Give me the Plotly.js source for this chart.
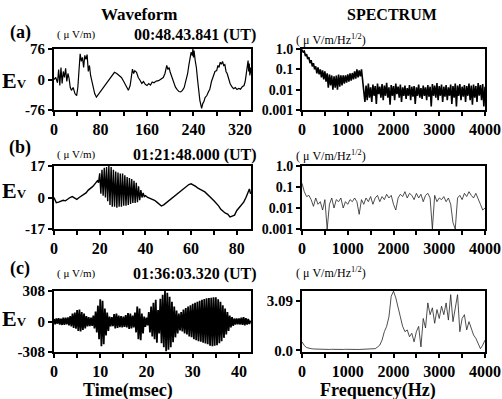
<!DOCTYPE html>
<html><head><meta charset="utf-8">
<script src="https://cdn.plot.ly/plotly-3.0.1.min.js"></script>
<style>html,body{margin:0;padding:0;background:#fff}#plot{width:502px;height:399px}</style>
</head><body><div id="plot"></div>
<script>
// ---------- DATA ----------
// (a) waveform, time in msec, Ev in uV/m
const aT = [0,3,6,8,10,12,14,16,18,20, 22,24,26,28,30,33,36,39,41,43, 45,47,49,51,53,55,57,59,61,63,
  65,67,70,73,76,80,84,88,92,96, 100,104,108,112,116,120,124,128,131,133, 135,137,139,142,145,148,151,154,157,160,
  163,166,169,172,176,180,184,188,191,194, 196,198,200,203,206,209,212,215,218,221, 224,227,230,232,234,236,238,239,240,241,
  243,245,247,249,251,253,254,256,258,260, 263,266,268,271,274,277,280,282,284,286, 288,290,292,294,296,298,300,303,306,309,
  312,315,318,321,324,327,329,331,333,334, 335,336,337,338,339];
const aV = [0,5,-8,25,-15,30,-10,20,5,28, -5,15,2,-20,-27,-20,-35,-40,-20,30, 64,45,55,30,60,50,62,20,35,10,
  -5,-20,-35,-44,-38,-28,-20,-12,-5,5, 12,18,15,10,5,-5,-18,-27,-15,10, 26,15,22,18,5,-2,-10,-5,-12,-15,
  -10,-14,-6,-8,-4,-3,2,5,15,35, 25,30,18,5,-10,-19,-25,-30,-31,-27, -20,-5,15,35,55,68,60,76,55,72,
  47,30,0,-30,-52,-65,-72,-60,-55,-45, -40,-30,-25,-5,10,20,22,35,30,43, 38,45,35,37,20,15,5,-10,-18,-23,
  -20,-25,-22,-24,-18,-15,-5,15,30,47, 20,40,10,30,15];

// (b) waveform
const bT = [0,0.5,1,2,3,4,5,6,7,8,9,10,11,12,13,14,15,16,17,18,19,19.5,
  20,20.5,21,21.5,22,22.5,23,23.5,24,24.5,25,25.5,26,26.5,27,27.5,28,28.5,29,29.5,
  30,30.5,31,31.5,32,32.5,33,33.5,34,34.5,35,35.5,36,36.5,37,37.5,38,38.5,39,39.5,
  40,41,42,43,44,45,46,47,48,49,50,51,52,53,54,55,56,57,58,59,60,61,62,63,64,65,66,67,68,69,
  70,71,72,73,74,75,76,77,78,79,80,81,82,83,84,85,85.5,86];
const bV = [0,-2,-2.8,-2.5,-2,-1.5,-1.8,-0.8,0,0.5,-0.5,-1,0,0.8,1.5,2.5,4,4.8,6,7.5,9,8,
  13,2,15,1,16,0,16.5,-2,17,-4,16.5,-5,15,-5,14,-5.5,13.5,-5,13,-5,
  13,-4.5,12,-4.5,11,-4,10.5,-3.5,10,-3,9,-3,8,-2.5,6,-1.5,4,0,2.5,0.5,
  1,0,-0.5,-1,-1.5,-2.5,-3.7,-4.6,-4,-3,-2,-1,0.5,1.5,2.5,3.5,4.2,5,6,7,7.4,6.8,6,5,4.5,3.7,3,2,1,-0.5,
  -1.8,-3,-4.5,-6.4,-7.5,-8.5,-9,-10.5,-10,-9.5,-7,-5.5,-4,-2.5,0,3,4.6,2];

// (c) waveform, sampled every 0.25 msec from 0
const cV = [25,-28,30,-22, 33,-30,28,-35, 38,-33,40,-30, 42,-40,55,-50, 80,-65,90,-72,
  115,-95,120,-100, 95,-85,80,-70, 55,-50,45,-48, 40,-45,60,-70, 100,-110,160,-180,
  225,-250,210,-230, 130,-140,90,-95, 50,-50,45,-48, 75,-70,80,-65, 60,-58,55,-60,
  50,-55,65,-60, 85,-75,80,-70, 60,-60,90,-110, 150,-180,130,-190, 80,-120,50,-55,
  40,-40,95,-110, 150,-150,190,-180, 220,-215,115,-120, 230,-220,270,-260, 308,-300,290,-285,
  250,-260,200,-210, 150,-160,110,-120, 80,-90,95,-100, 120,-120,135,-130, 150,-150,165,-160,
  180,-180,190,-190, 200,-200,210,-205, 220,-215,228,-222, 235,-230,238,-245, 240,-250,245,-245,
  245,-240,225,-220, 200,-200,165,-165, 130,-130,95,-95, 60,-60,45,-45, 30,-30,30,-28,
  30,-30,38,-35, 45,-40,35,-32, 25,-25,10];

// (a) spectrum, every 25 Hz from 0
const sA = [0.95,0.71,0.79,0.45,0.56,0.32,0.4,0.2,0.28,0.14,
  0.2,0.1,0.14,0.063,0.126,0.056,0.1,0.04,0.089,0.032,
  0.079,0.025,0.063,0.0126,0.056,0.016,0.05,0.01,0.045,0.0126,
  0.05,0.01,0.056,0.014,0.05,0.016,0.05,0.02,0.05,0.022,
  0.056,0.025,0.063,0.028,0.066,0.032,0.079,0.035,0.1,0.04,
  0.089,0.045,0.1,0.032,0.01,0.0025,
  0.016,0.003,0.02,0.004,0.013,0.0025,0.018,0.005,0.015,0.002,
  0.02,0.006,0.014,0.004,0.019,0.003,0.016,0.005,0.022,0.004,
  0.013,0.0018,0.017,0.005,0.015,0.003,0.02,0.006,0.014,0.004,
  0.018,0.0025,0.013,0.005,0.016,0.0035,0.012,0.005,0.017,0.003,
  0.014,0.0045,0.015,0.002,0.013,0.005,0.018,0.004,0.012,0.0035,
  0.016,0.005,0.013,0.003,0.017,0.0045,0.014,0.0015,0.019,0.005,
  0.016,0.004,0.021,0.003,0.015,0.005,0.018,0.0025,0.014,0.0045,
  0.017,0.003,0.013,0.005,0.018,0.002,0.015,0.004,0.02,0.0015,
  0.016,0.005,0.019,0.003,0.014,0.0045,0.017,0.0025,0.015,0.005,
  0.02,0.003,0.016,0.0018,0.018,0.004,0.015,0.0025,0.021,0.005,
  0.017,0.003,0.019,0.0015,0.014];

// (b) spectrum, every 50 Hz from 0
const sB = [0.15,0.06,0.035,0.04,0.025,0.012,0.03,0.015,0.02,0.008,
  0.025,0.001,0.015,0.03,0.01,0.025,0.02,0.03,0.01,0.02,
  0.015,0.025,0.02,0.03,0.02,0.005,0.025,0.015,0.03,0.02,
  0.035,0.015,0.03,0.04,0.02,0.035,0.025,0.045,0.03,0.04,
  0.015,0.008,0.03,0.045,0.035,0.06,0.03,0.05,0.04,0.025,
  0.05,0.03,0.045,0.02,0.04,0.05,0.03,0.001,0.04,0.02,
  0.03,0.025,0.035,0.02,0.03,0.015,0.002,0.001,0.03,0.04,
  0.025,0.05,0.035,0.06,0.04,0.03,0.05,0.025,0.015,0.008,0.01];

// (c) spectrum, every 50 Hz from 0
const sC = [0.53,0.3,0.17,0.12,0.1,0.08,
  0.07,0.06,0.06,0.05,0.06,0.05,0.05,0.06,0.05,0.05,0.06,0.05,0.05,0.06,0.05,0.05,0.06,0.05,0.05,0.05,0.06,0.06,0.06,0.07,0.07,0.08,
  0.1,0.2,0.32,0.64,1.17,1.5,2.1,3.4,3.72,3.3,2.77,2.1,1.5,1.17,1.28,0.85,1.07,0.53,1.17,1.5,0.21,2.0,1.4,2.98,
  2.24,2.67,1.7,2.56,2.0,2.77,2.24,2.98,1.9,3.5,1.8,2.6,3.5,1.17,2.0,2.24,1.28,1.8,1.3,0.96,0.75,0.43,0.1,0.32,0.64];

const titles = ["Waveform","SPECTRUM"];
const panelLabels = ["(a)","(b)","(c)"];
const timeStamps = ["00:48.43.841 (UT)","01:21:48.000 (UT)","01:36:03.320 (UT)"];
const waveMax = [76,17,308];
const waveXMax = [339,86.2,42.6];

// ---------- LAYOUT ----------
const W=502,H=399;
const fx = p => p/W, fy = p => 1-p/H;
const rows = [[49,110],[166,229],[291,352]];
const wx=[54,251], sx=[302,485];
const serif='Liberation Serif';
const tf = (s)=>({family:serif,size:s,color:'black'});
const B = s => s===''?'':'<b>'+s+'</b>';
const base = {showline:true,mirror:true,linecolor:'black',linewidth:2,ticks:'outside',ticklen:4,tickwidth:2,
  tickcolor:'black',showgrid:false,zeroline:false,fixedrange:true,tickfont:tf(16)};
const line = {color:'black',width:1.4};

const traces = [
  {x:aT,y:aV,xaxis:'x',yaxis:'y',type:'scatter',mode:'lines',line:{color:'black',width:1.2}},
  {x0:0,dx:25,y:sA,xaxis:'x2',yaxis:'y2',type:'scatter',mode:'lines',line:{color:'black',width:1.6}},
  {x:bT,y:bV,xaxis:'x3',yaxis:'y3',type:'scatter',mode:'lines',line:line},
  {x0:0,dx:50,y:sB,xaxis:'x4',yaxis:'y4',type:'scatter',mode:'lines',line:{color:'#222',width:0.8}},
  {x0:0,dx:0.25,y:cV,xaxis:'x5',yaxis:'y5',type:'scatter',mode:'lines',line:{color:'black',width:1.8}},
  {x0:0,dx:50,y:sC,xaxis:'x6',yaxis:'y6',type:'scatter',mode:'lines',line:{color:'#222',width:0.8}}
];

function lab(vals, every){return vals.map(v=> (v%every===0)?B(String(v)):'');}
const wTicks = [[0,40,80,120,160,200,240,280,320],[0,10,20,30,40,50,60,70,80],[0,5,10,15,20,25,30,35,40]];
const wEvery = [80,20,10];
const fTicks = [0,500,1000,1500,2000,2500,3000,3500,4000];

const layout = {width:W,height:H,margin:{l:0,r:0,t:0,b:0},paper_bgcolor:'white',plot_bgcolor:'white',showlegend:false,annotations:[]};
for(let r=0;r<3;r++){
  const xi = 2*r+1, si = 2*r+2;
  const yd=[fy(rows[r][1]),fy(rows[r][0])];
  layout['xaxis'+(xi===1?'':xi)] = Object.assign({},base,{domain:[fx(wx[0]),fx(wx[1])],range:[0,waveXMax[r]],anchor:'y'+(xi===1?'':xi),
    tickmode:'array',tickvals:wTicks[r],ticktext:lab(wTicks[r],wEvery[r])});
  layout['yaxis'+(xi===1?'':xi)] = Object.assign({},base,{domain:yd,range:[-waveMax[r],waveMax[r]],anchor:'x'+(xi===1?'':xi),
    tickmode:'array',tickvals:[-waveMax[r],0,waveMax[r]],ticktext:[B(String(-waveMax[r])),B('0'),B(String(waveMax[r]))],tickfont:tf(15)});
  layout['xaxis'+si] = Object.assign({},base,{domain:[fx(sx[0]),fx(sx[1])],range:[0,4000],anchor:'y'+si,
    tickmode:'array',tickvals:fTicks,ticktext:lab(fTicks,1000)});
  if(r<2){
    layout['yaxis'+si] = Object.assign({},base,{domain:yd,type:'log',range:[-3,0],anchor:'x'+si,
      tickmode:'array',tickvals:[0.001,0.01,0.1,1],ticktext:['0.001','0.01','0.1','1.0'].map(B),tickfont:tf(14)});
  } else {
    layout['yaxis'+si] = Object.assign({},base,{domain:yd,range:[-0.11,3.73],anchor:'x'+si,
      tickmode:'array',tickvals:[0,3.09],ticktext:['0.0','3.09'].map(B),tickfont:tf(15)});
  }
}

function ann(text,x,y,size,bold,opts){
  layout.annotations.push(Object.assign({text:text,x:fx(x),y:fy(y),xref:'paper',yref:'paper',showarrow:false,
    xanchor:'center',yanchor:'middle',font:{family:serif,size:size,weight:bold?'bold':'normal',color:'black'}},opts||{}));
}
ann(titles[0],139,14,17,true);
ann(titles[1],392,14,16,true);
const labY=[32,147,268], unitY=[34,154,273], tsY=[35,155,274], sunitY=[39,155,272];
const evY=[80,190,318];
for(let r=0;r<3;r++){
  ann(panelLabels[r],20,labY[r],18,true);
  ann('( μ V/m)',76,unitY[r],11,false);
  ann(timeStamps[r],195,tsY[r],16,true);
  ann('( μ V/m/Hz<sup>1/2</sup>)',331,sunitY[r],12,false);
  ann('E<span style="font-size:13px">V</span>',14,evY[r],22,true);
}
ann('Time(msec)',128,390,18,true);
ann('Frequency(Hz)',378,390,18,true);

Plotly.newPlot('plot',traces,layout,{displayModeBar:false,staticPlot:true});
</script></body></html>
